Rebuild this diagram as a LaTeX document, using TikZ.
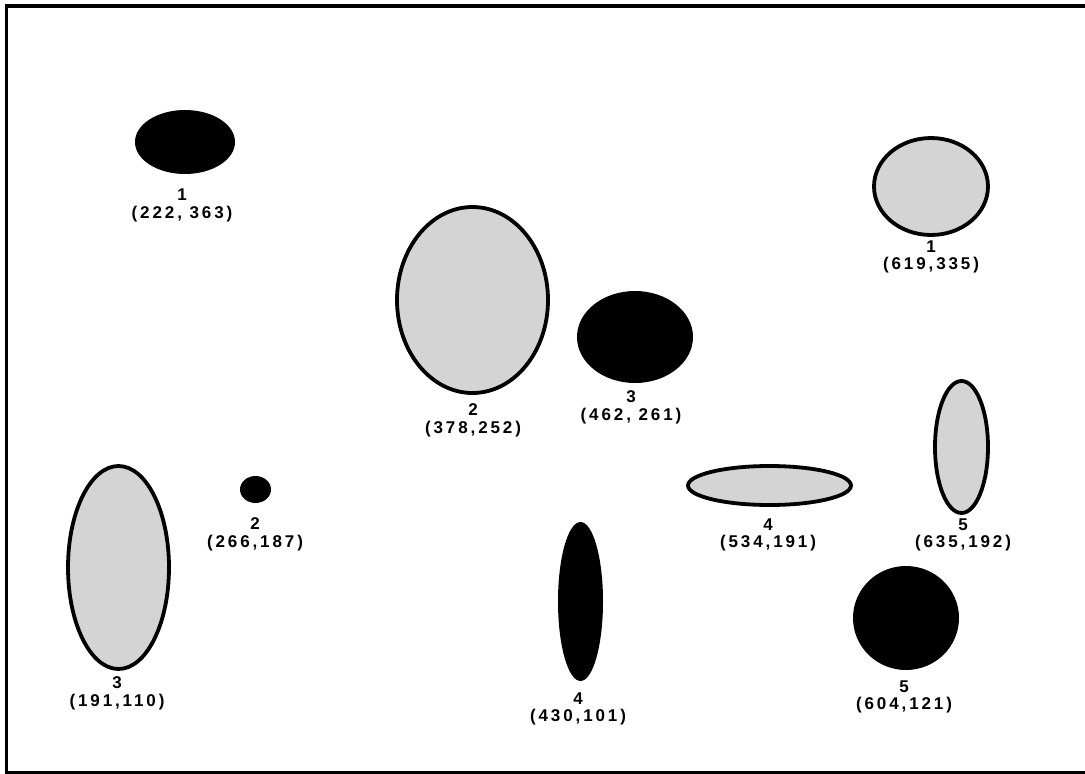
\documentclass[tikz,border=0pt]{standalone}
\usepackage{fontspec}
\setmainfont{Liberation Sans}[LetterSpace=17]
\usetikzlibrary{shapes.geometric}
\definecolor{stip}{RGB}{212,212,212}
\tikzset{
  blk/.style={ellipse, fill=black, draw=none, inner sep=0pt},
  gry/.style={ellipse, fill=stip, draw=black, line width=3.8pt, inner sep=0pt},
  lbl/.style={anchor=north, align=center, inner sep=0pt, font=\bfseries\fontsize{17}{17.5}\selectfont},
}
\begin{document}
\begin{tikzpicture}[x=1pt,y=-1pt]
\useasboundingbox (0,0) rectangle (1085,774);
% frame
\draw[line width=3.2pt] (1095,6) -- (6.5,6) -- (6.5,773) -- (1095,773);
% black ellipses
\node[blk, minimum width=100pt, minimum height=64pt] (b1) at (185,142) {};
\node[lbl] (lb1) at (182,189) {1\\(222, 363)};
\node[blk, minimum width=116pt, minimum height=92pt] (b3) at (635,337) {};
\node[lbl] (lb3) at (631,390.5) {3\\(462, 261)};
\node[blk, minimum width=31pt, minimum height=27pt] (b2) at (255.5,489.5) {};
\node[lbl] (lb2) at (255,517.5) {2\\(266,187)};
\node[blk, minimum width=45pt, minimum height=159pt] (b4) at (580.5,601.5) {};
\node[lbl] (lb4) at (578,692.5) {4\\(430,101)};
\node[blk, minimum width=106pt, minimum height=104pt] (b5) at (906,618) {};
\node[lbl] (lb5) at (904,680.5) {5\\(604,121)};
% gray ellipses
\node[gry, minimum width=151pt, minimum height=186pt] (g2) at (472.5,300) {};
\node[lbl] (lg2) at (473,403.5) {2\\(378,252)};
\node[gry, minimum width=114pt, minimum height=97pt] (g1) at (931,186.5) {};
\node[lbl] (lg1) at (931,240.5) {1\\(619,335)};
\node[gry, minimum width=53pt, minimum height=132pt] (g5) at (961.5,447) {};
\node[lbl] (lg5) at (963,518.5) {5\\(635,192)};
\node[gry, minimum width=163pt, minimum height=39pt] (g4) at (769.5,485.5) {};
\node[lbl] (lg4) at (768,518.5) {4\\(534,191)};
\node[gry, minimum width=101pt, minimum height=203pt] (g3) at (118.5,567.5) {};
\node[lbl] (lg3) at (117,676.5) {3\\(191,110)};
\end{tikzpicture}
\end{document}
